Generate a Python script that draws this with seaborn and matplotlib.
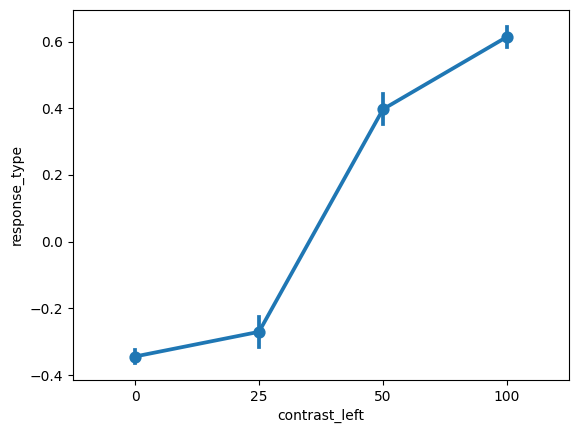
import matplotlib
matplotlib.use("Agg")
import matplotlib.pyplot as plt
import pandas as pd
import seaborn as sns

# Values
contrast_levels = [0, 25, 50, 100]
mean_response = [-0.344, -0.270, 0.397, 0.614]
half_interval = [0.020, 0.045, 0.045, 0.030]

# Per level: low / mean / high, so the mean is kept and the interval spans min..max
rows = []
for level, m, e in zip(contrast_levels, mean_response, half_interval):
    for v in (m - e, m, m + e):
        rows.append({"contrast_left": level, "response_type": v})
df = pd.DataFrame(rows)

fig = plt.figure(figsize=(5.78, 4.33), dpi=100)
ax = fig.add_axes([73 / 578, 1 - 380 / 433, 496 / 578, 370 / 433])
sns.pointplot(data=df, x="contrast_left", y="response_type",
              errorbar=("pi", 100), ax=ax)

fig.savefig("out.png", dpi=100)
